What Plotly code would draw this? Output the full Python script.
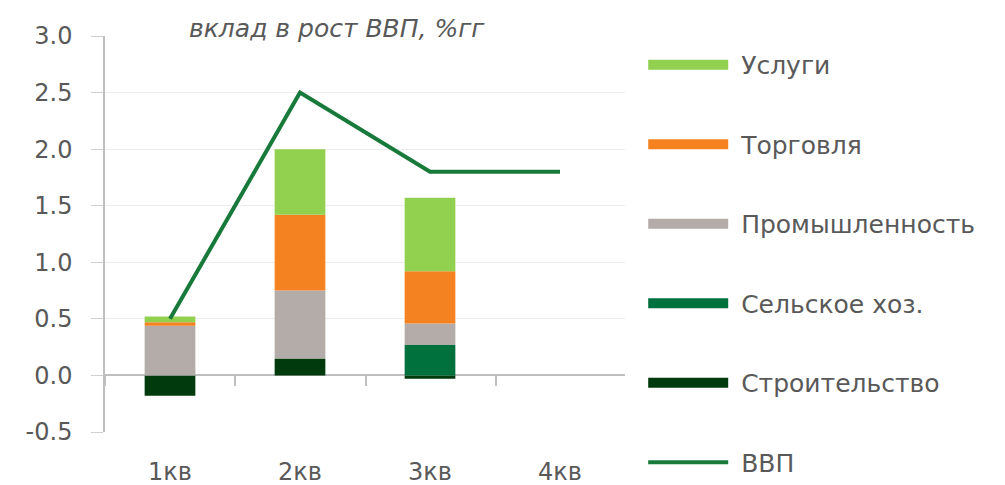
import plotly.graph_objects as go

quarters = ["1кв", "2кв", "3кв", "4кв"]
construction = [-0.18, 0.15, -0.03, None]
agriculture = [0.0, 0.0, 0.27, None]
industry = [0.44, 0.60, 0.19, None]
trade = [0.03, 0.67, 0.46, None]
services = [0.05, 0.58, 0.65, None]
gdp = [0.5, 2.5, 1.8, 1.8]

y_tick_values = [-0.5, 0.0, 0.5, 1.0, 1.5, 2.0, 2.5, 3.0]
y_tick_labels = ["-0.5", "0.0", "0.5", "1.0", "1.5", "2.0", "2.5", "3.0"]

series = [
    ("Строительство", construction, "#013A0C"),
    ("Сельское хоз.", agriculture, "#00703C"),
    ("Промышленность", industry, "#B3ACA9"),
    ("Торговля", trade, "#F58220"),
    ("Услуги", services, "#92D050"),
]

FONT = "DejaVu Sans"
GRAY = "#595959"

fig = go.Figure()
for name, vals, col in series:
    fig.add_trace(go.Bar(x=quarters, y=vals, name=name, marker_color=col,
                         marker_line_width=0, width=0.39, showlegend=False))

fig.add_trace(go.Scatter(x=quarters, y=gdp, mode="lines", name="ВВП",
                         line=dict(color="#17793A", width=4), showlegend=False))

# legend entries
legend_items = [("Услуги", "#92D050", 14), ("Торговля", "#F58220", 14),
                ("Промышленность", "#B3ACA9", 14), ("Сельское хоз.", "#00703C", 14),
                ("Строительство", "#013A0C", 14), ("ВВП", "#17793A", 4)]
for i, (name, col, w) in enumerate(legend_items):
    fig.add_trace(go.Scatter(x=[None], y=[None], mode="lines", name="\u00a0" + name,
                             line=dict(color=col, width=w), legendgroup=str(i),
                             showlegend=True))

# secondary x axis for tick marks at y=0
fig.add_trace(go.Scatter(x=quarters, y=[None]*4, xaxis="x2", showlegend=False,
                         hoverinfo="skip"))

fig.update_layout(
    width=1005, height=485,
    margin=dict(l=97, r=388, t=28, b=61, autoexpand=False),
    paper_bgcolor="white", plot_bgcolor="white",
    barmode="relative", bargap=0.61,
    font=dict(family=FONT, color=GRAY),
    showlegend=True,
    legend=dict(x=1.035, xanchor="left", yref="container", y=0.93, yanchor="top",
                font=dict(size=25, color=GRAY, family=FONT),
                itemwidth=80, tracegroupgap=44, traceorder="grouped",
                maxheight=480, bgcolor="rgba(0,0,0,0)"),
    xaxis=dict(type="category", categoryorder="array", categoryarray=quarters,
               range=[-0.5, 3.5], showgrid=False, showline=False, ticks="",
               ticklabelstandoff=23,
               tickfont=dict(size=24, color=GRAY), zeroline=False),
    xaxis2=dict(type="category", categoryorder="array", categoryarray=quarters,
                range=[-0.5, 3.49], overlaying="x", anchor="free",
                position=0.5/3.5, side="bottom", showgrid=False,
                showline=False, showticklabels=False, ticks="outside",
                tickson="boundaries", ticklen=10, tickcolor="#BFBFBF",
                tickwidth=1.5),
    yaxis=dict(range=[-0.5, 3.0], tickmode="array", tickvals=y_tick_values,
               ticktext=y_tick_labels,
               showgrid=True, gridcolor="#EDEDED", gridwidth=1,
               zeroline=True, zerolinecolor="#BFBFBF", zerolinewidth=1.5,
               showline=True, linecolor="#BFBFBF", linewidth=1.5,
               ticks="outside", ticklen=12, tickcolor="#D0D0D0", tickwidth=1,
               ticklabelstandoff=14,
               tickfont=dict(size=24, color=GRAY)),
    annotations=[dict(text="<i>вклад в рост ВВП, %гг</i>", xref="paper",
                      yref="paper", x=0.446, y=1.02, xanchor="center",
                      yanchor="middle", showarrow=False,
                      font=dict(size=25, color=GRAY, family=FONT))],
)

fig.write_html("out.html")
